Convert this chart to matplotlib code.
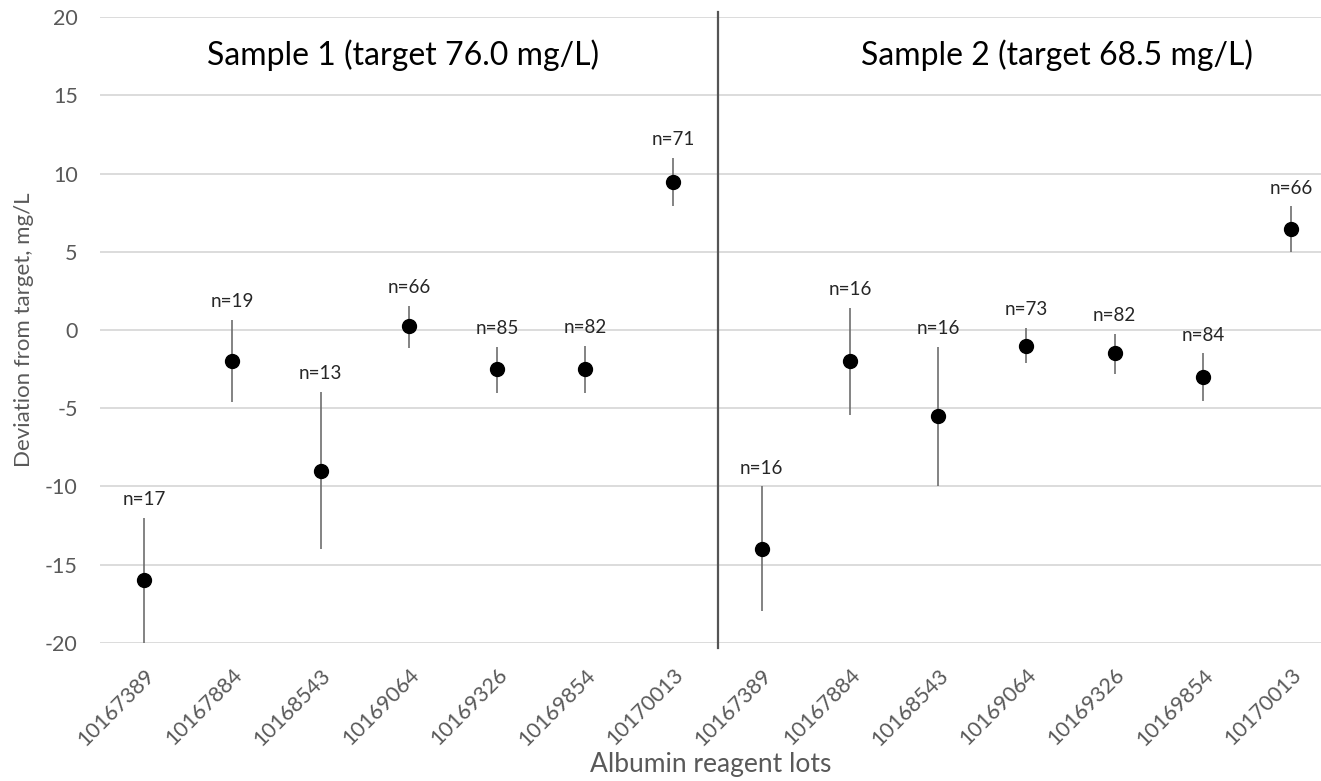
import numpy as np
import matplotlib.pyplot as plt

# lots (same 7 lots for both samples)
lots = ["10167389", "10167884", "10168543", "10169064",
        "10169326", "10169854", "10170013"]

# Sample 1 (target 76.0 mg/L)
s1_mean = [-16.0, -2.0, -9.0, 0.25, -2.5, -2.5, 9.45]
s1_low  = [-20.0, -4.6, -14.0, -1.15, -4.0, -4.0, 7.9]
s1_high = [-12.0, 0.65, -3.95, 1.55, -1.1, -1.0, 11.0]
s1_n    = [17, 19, 13, 66, 85, 82, 71]

# Sample 2 (target 68.5 mg/L)
s2_mean = [-14.0, -2.0, -5.5, -1.0, -1.5, -3.0, 6.45]
s2_low  = [-18.0, -5.45, -9.95, -2.1, -2.8, -4.55, 5.0]
s2_high = [-10.0, 1.4, -1.1, 0.15, -0.25, -1.5, 7.9]
s2_n    = [16, 16, 16, 73, 82, 84, 66]

titles = ["Sample 1 (target 76.0 mg/L)", "Sample 2 (target 68.5 mg/L)"]

plt.rcParams['font.family'] = ['Lato', 'DejaVu Sans']
plt.rcParams['axes.unicode_minus'] = False

mean = np.array(s1_mean + s2_mean)
low = np.array(s1_low + s2_low)
high = np.array(s1_high + s2_high)
ns = s1_n + s2_n
labels = lots + lots
x = np.arange(len(mean))

fig = plt.figure(figsize=(13.21, 7.81), dpi=100)
ax = fig.add_axes([0.0757, 0.177, 0.9243, 0.801])

ax.errorbar(x, mean, yerr=[mean - low, high - mean], fmt="o", color="black",
            ecolor="#6e6e6e", elinewidth=1.2, capsize=0, markersize=10, zorder=3)

for xi, hi, n in zip(x, high, ns):
    ax.annotate(f"n={n}", (xi, hi), xytext=(0, 7), textcoords="offset points",
                ha="center", va="bottom", fontsize=13.5, color="#262626")

ax.axvline(6.5, ymin=-0.008, ymax=1.008, color="#555555", lw=1.6, clip_on=False, zorder=2)

ax.text(2.93, 17.6, titles[0], ha="center", va="center", fontsize=23, color="black")
ax.text(10.35, 17.6, titles[1], ha="center", va="center", fontsize=23, color="black")

ax.set_xlim(-0.5, 13.34)
ax.set_ylim(-20, 20)
ax.set_yticks(np.arange(-20, 21, 5))
ax.set_xticks(x)
ax.set_xticklabels(labels, rotation=45, ha="right", rotation_mode="anchor")
ax.tick_params(axis="both", length=0, labelsize=15.5, labelcolor="#595959")
ax.tick_params(axis="x", pad=16)
ax.tick_params(axis="y", pad=16)
ax.grid(axis="y", color="#d9d9d9", lw=1.3)
ax.set_axisbelow(True)
for sp in ax.spines.values():
    sp.set_visible(False)

ax.set_ylabel("Deviation from target, mg/L", fontsize=16, color="#595959", labelpad=8)
ax.set_xlabel("Albumin reagent lots", fontsize=19, color="#595959", labelpad=2)

fig.savefig("out.png", dpi=100)
